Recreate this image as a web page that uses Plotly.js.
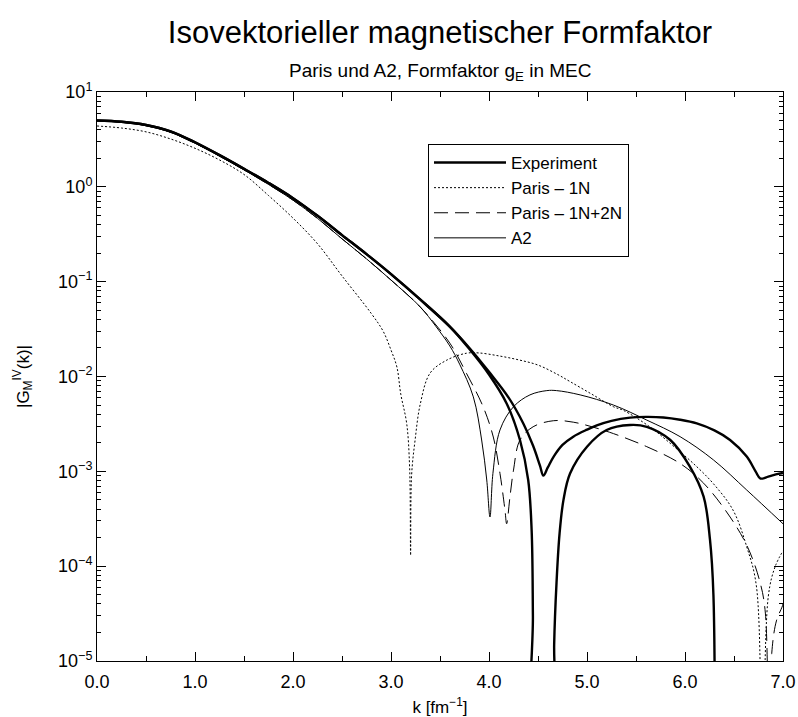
<!DOCTYPE html>
<html>
<head>
<meta charset="utf-8">
<script src="https://cdn.plot.ly/plotly-3.0.1.min.js"></script>
<style>html,body{margin:0;padding:0;background:#fff;}#chart{width:798px;height:717px;}</style>
</head>
<body>
<div id="chart"></div>
<script>
// Experiment (main branch, with cusps)
const kExpA = [0, 0.25, 0.5, 0.75, 1.0, 1.25, 1.5, 1.75, 2.0, 2.25, 2.5, 2.75, 3.0, 3.3, 3.6, 3.8, 4.0, 4.2, 4.35, 4.45, 4.52, 4.555, 4.6, 4.66, 4.75, 4.86, 5.0, 5.1, 5.25, 5.44, 5.6, 5.78, 5.95, 6.12, 6.3, 6.46, 6.63, 6.72, 6.77, 6.85, 6.95, 7.0];
const gExpA = [5.0, 4.85, 4.49, 3.85, 2.95, 2.16, 1.55, 1.10, 0.76, 0.495, 0.31, 0.195, 0.12, 0.0646, 0.0336, 0.020, 0.0112, 6.0e-3, 3.2e-3, 1.86e-3, 1.15e-3, 9.0e-4, 1.1e-3, 1.43e-3, 1.9e-3, 2.32e-3, 2.75e-3, 3.05e-3, 3.4e-3, 3.68e-3, 3.75e-3, 3.7e-3, 3.5e-3, 3.2e-3, 2.7e-3, 2.14e-3, 1.43e-3, 1.0e-3, 8.4e-4, 8.8e-4, 9.4e-4, 9.6e-4];
// Experiment (second branch, with zeros)
const kExpB = [0, 0.25, 0.5, 0.75, 1.0, 1.25, 1.5, 1.75, 2.0, 2.25, 2.5, 2.75, 3.0, 3.3, 3.6, 3.8, 4.0, 4.18, 4.316, 4.4, 4.435, 4.448, 4.455, 4.655, 4.665, 4.69, 4.72, 4.76, 4.827, 5.0, 5.2, 5.44, 5.61, 5.85, 6.05, 6.19, 6.255, 6.29, 6.306];
const gExpB = [5.0, 4.85, 4.49, 3.85, 2.95, 2.16, 1.55, 1.10, 0.76, 0.495, 0.31, 0.195, 0.12, 0.0646, 0.0336, 0.0195, 0.0105, 5.2e-3, 2.14e-3, 8.1e-4, 2.4e-4, 3e-5, 1e-7, 1e-7, 1.5e-5, 7e-5, 2.2e-4, 5e-4, 9.5e-4, 1.82e-3, 2.73e-3, 3.08e-3, 2.95e-3, 2.14e-3, 1.12e-3, 5.4e-4, 1.9e-4, 5e-5, 1e-7];
// Paris - 1N
const kP1 = [0, 0.25, 0.5, 0.75, 1.0, 1.25, 1.5, 1.75, 2.0, 2.25, 2.5, 2.8, 2.92, 3.0, 3.06, 3.1, 3.16, 3.19, 3.2, 3.21, 3.245, 3.3, 3.4, 3.57, 3.77, 3.9, 4.1, 4.3, 4.5, 4.7, 4.83, 5.05, 5.27, 5.37, 5.64, 5.85, 6.12, 6.3, 6.49, 6.63, 6.73, 6.785, 6.85, 6.92, 7.0];
const gP1 = [4.38, 4.17, 3.8, 3.2, 2.55, 1.92, 1.35, 0.81, 0.468, 0.251, 0.115, 0.046, 0.030, 0.019, 0.0126, 6.5e-3, 3.2e-3, 1.1e-3, 1.3e-4, 9e-4, 2.1e-3, 5.2e-3, 0.0109, 0.0149, 0.0176, 0.0177, 0.0165, 0.0150, 0.0132, 0.0105, 8.8e-3, 6.5e-3, 4.8e-3, 4.4e-3, 2.95e-3, 1.97e-3, 1.12e-3, 7.2e-4, 3.9e-4, 1.6e-4, 6e-5, 1e-7, 4.8e-5, 9.9e-5, 1.45e-4];
// Paris - 1N+2N
const kP12 = [0, 0.25, 0.5, 0.75, 1.0, 1.25, 1.5, 1.75, 2.0, 2.25, 2.5, 2.75, 3.0, 3.3, 3.6, 3.77, 3.94, 4.044, 4.112, 4.163, 4.18, 4.214, 4.25, 4.316, 4.45, 4.66, 4.86, 5.05, 5.27, 5.61, 5.95, 6.19, 6.46, 6.64, 6.765, 6.82, 6.855, 6.885, 6.935, 6.99, 7.0];
const gP12 = [5.0, 4.8, 4.42, 3.76, 2.88, 2.11, 1.51, 1.06, 0.724, 0.465, 0.283, 0.174, 0.104, 0.0537, 0.0225, 0.0108, 4.8e-3, 2.3e-3, 9.5e-4, 3.9e-4, 2.8e-4, 5.4e-4, 1.03e-3, 2.14e-3, 2.95e-3, 3.42e-3, 3.3e-3, 2.95e-3, 2.5e-3, 1.82e-3, 1.21e-3, 7.5e-4, 3.3e-4, 1.58e-4, 6.8e-5, 3.2e-5, 1e-7, 1.2e-5, 2.7e-5, 3.7e-5, 4e-5];
// A2
const kA2 = [0, 0.25, 0.5, 0.75, 1.0, 1.25, 1.5, 1.75, 2.0, 2.25, 2.5, 2.75, 3.0, 3.3, 3.456, 3.6, 3.7, 3.84, 3.925, 3.977, 4.01, 4.04, 4.112, 4.25, 4.418, 4.59, 4.69, 4.93, 5.27, 5.61, 5.95, 6.29, 6.63, 7.0];
const gA2 = [5.0, 4.8, 4.42, 3.76, 2.88, 2.11, 1.51, 1.06, 0.724, 0.465, 0.283, 0.174, 0.104, 0.054, 0.034, 0.021, 0.0135, 6.1e-3, 2.14e-3, 8.1e-4, 3.3e-4, 9.5e-4, 2.73e-3, 4.8e-3, 6.4e-3, 7.1e-3, 7.1e-3, 6.4e-3, 5.0e-3, 3.47e-3, 2.32e-3, 1.32e-3, 6.35e-4, 2.8e-4];

const seriesNames = ["Experiment", "Paris \u2013 1N", "Paris \u2013 1N+2N", "A2"];
const yTickVals = [1e-5, 1e-4, 1e-3, 1e-2, 1e-1, 1, 10];
const yTickText = ["10<sup>\u22125</sup>", "10<sup>\u22124</sup>", "10<sup>\u22123</sup>", "10<sup>\u22122</sup>", "10<sup>\u22121</sup>", "10<sup>0</sup>", "10<sup>1</sup>"];
const xTickVals = [0, 1, 2, 3, 4, 5, 6, 7];
const xTickText = ["0.0", "1.0", "2.0", "3.0", "4.0", "5.0", "6.0", "7.0"];

const FONT = "'Liberation Sans', Arial, Helvetica, sans-serif";
const SM = 1.0;

const traces = [
  {x: kExpA, y: gExpA, name: seriesNames[0], mode: "lines", line: {color: "#000", width: 2.4, shape: "spline", smoothing: SM}},
  {x: kP1, y: gP1, name: seriesNames[1], mode: "lines", line: {color: "#000", width: 1, dash: "2px,2px", shape: "spline", smoothing: SM}},
  {x: kP12, y: gP12, name: seriesNames[2], mode: "lines", line: {color: "#000", width: 1, dash: "14px,7px", shape: "spline", smoothing: SM}},
  {x: kA2, y: gA2, name: seriesNames[3], mode: "lines", line: {color: "#000", width: 1, shape: "spline", smoothing: SM}},
  {x: kExpB, y: gExpB, name: seriesNames[0], mode: "lines", showlegend: false, line: {color: "#000", width: 2.4, shape: "spline", smoothing: SM}}
];

const layout = {
  width: 798, height: 717,
  paper_bgcolor: "#fff", plot_bgcolor: "#fff",
  margin: {l: 97, r: 15, t: 92, b: 56},
  font: {family: FONT, color: "#000", size: 16},
  showlegend: true,
  title: {text: "Isovektorieller magnetischer Formfaktor", font: {family: FONT, size: 31, color: "#000"},
          x: 0.5, xref: "paper", xanchor: "center", y: 1 - 32/717, yref: "container", yanchor: "middle"},
  annotations: [
    {text: "Paris und A2, Formfaktor g<sub>E</sub> in MEC", xref: "paper", yref: "paper", x: 0.5, y: (661 - 72) / 569,
     xanchor: "center", yanchor: "middle", showarrow: false, font: {family: FONT, size: 19, color: "#000"}}
  ],
  xaxis: {
    range: [0, 7], tickvals: xTickVals, ticktext: xTickText,
    ticks: "inside", ticklen: 9, tickwidth: 1, tickcolor: "#000",
    showline: true, linecolor: "#000", linewidth: 1, mirror: "allticks",
    showgrid: false, zeroline: false, ticklabelstandoff: 4,
    minor: {dtick: 0.5, tick0: 0, ticks: "inside", ticklen: 5, tickcolor: "#000", showgrid: false},
    tickfont: {size: 18},
    title: {text: "k [fm<sup>\u22121</sup>]", font: {size: 17}, standoff: 10}
  },
  yaxis: {
    type: "log", range: [-5, 1], tickvals: yTickVals, ticktext: yTickText,
    ticks: "inside", ticklen: 9, tickwidth: 1, tickcolor: "#000",
    showline: true, linecolor: "#000", linewidth: 1, mirror: "allticks",
    showgrid: false, zeroline: false,
    minor: {dtick: "D1", ticks: "inside", ticklen: 4, tickcolor: "#000", showgrid: false},
    tickfont: {size: 18},
    title: {text: "|G<sub>M</sub><sup>IV</sup>(k)|", font: {size: 17}, standoff: 24}
  },
  legend: {
    x: (428 - 97) / 686, y: (661 - 144) / 569, xanchor: "left", yanchor: "top",
    bordercolor: "#000", borderwidth: 1, bgcolor: "#fff",
    font: {family: FONT, size: 17, color: "#000"},
    itemwidth: 72, tracegroupgap: 0
  }
};

Plotly.newPlot("chart", traces, layout, {displayModeBar: false, staticPlot: true});
</script>
</body>
</html>
